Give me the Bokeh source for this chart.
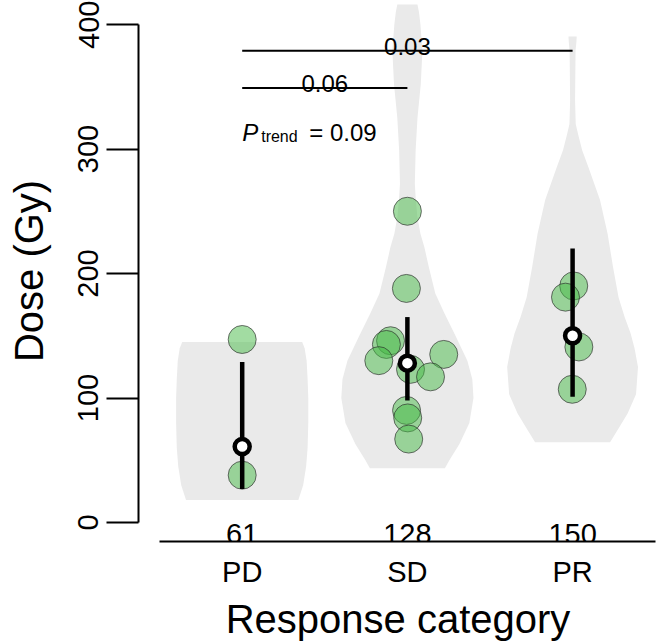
import numpy as np
from bokeh.plotting import figure
from bokeh.models import FixedTicker, Range1d
from bokeh.core.properties import value
from bokeh.embed import file_html
from bokeh.resources import INLINE

# ---------------- data ----------------
categories = ["PD", "SD", "PR"]
cat_pos = [1, 2, 3]

# individual patient doses (Gy) and horizontal jitter (x units)
pd_dose = [147, 38]
pd_jit = [0.0, 0.0]
sd_dose = [250, 188, 146, 143, 130, 135, 123, 117, 90, 84, 67]
sd_jit = [0.0, -0.006, -0.102, -0.127, -0.173, 0.220, 0.019, 0.140, -0.005, 0.002, 0.008]
pr_dose = [190, 181, 141, 107]
pr_jit = [0.007, -0.043, 0.038, -0.002]

medians = [61, 128, 150]
ci_low = [27, 98, 101]
ci_high = [129, 165, 220]

# violin outlines: dose level and half-width (x units)
pd_v_dose = [18, 30, 45, 60, 80, 100, 115, 130, 140, 145]
pd_v_half = [0.340, 0.369, 0.387, 0.396, 0.400, 0.400, 0.396, 0.390, 0.378, 0.363]
sd_v_dose = [43.6, 50, 63, 80, 100, 115, 130, 140, 150, 168, 184, 205, 221, 232, 245,
             259, 272, 299, 325, 352, 379, 400, 410, 416]
sd_v_half = [0.227, 0.254, 0.315, 0.375, 0.400, 0.393, 0.363, 0.327, 0.291, 0.224, 0.169,
             0.130, 0.103, 0.079, 0.061, 0.051, 0.045, 0.050, 0.061, 0.081, 0.091, 0.079,
             0.070, 0.061]
pr_v_dose = [64.5, 75.5, 87.5, 103, 125, 140, 152, 165, 181, 205, 232, 259, 285, 299,
             312, 320, 339, 379, 386, 390.4]
pr_v_half = [0.227, 0.278, 0.333, 0.384, 0.396, 0.375, 0.351, 0.315, 0.278, 0.245, 0.212,
             0.166, 0.097, 0.058, 0.033, 0.019, 0.015, 0.018, 0.023, 0.025]

# pairwise comparisons (from, to, p) and trend p
comp_from = [1, 1]
comp_to = [2, 3]
comp_p = ["0.06", "0.03"]
comp_level = [349, 379]
p_trend = "0.09"

y_ticks = [0, 100, 200, 300, 400]

FONT = "Liberation Sans"

# ---------------- figure ----------------
p = figure(width=657, height=644,
           x_range=Range1d(0.3723, 3.514), y_range=Range1d(-15.26, 419.28),
           output_backend="svg", toolbar_location=None,
           min_border_left=138, min_border_right=0, min_border_top=0, min_border_bottom=103)
p.xgrid.visible = False
p.ygrid.visible = False
p.outline_line_color = None
p.background_fill_color = "white"
p.border_fill_color = "white"

# violins
v_xs, v_ys = [], []
for c, d, h in [(1, pd_v_dose, pd_v_half), (2, sd_v_dose, sd_v_half), (3, pr_v_dose, pr_v_half)]:
    d = np.asarray(d, float)
    h = np.asarray(h, float)
    v_xs.append(list(c - h) + list((c + h)[::-1]))
    v_ys.append(list(d) + list(d[::-1]))
p.patches(v_xs, v_ys, fill_color="#EAEAEA", line_color=None)

# points
px = [1 + j for j in pd_jit] + [2 + j for j in sd_jit] + [3 + j for j in pr_jit]
py = pd_dose + sd_dose + pr_dose
p.scatter(px, py, size=28, fill_color="#45BA45", fill_alpha=0.5,
          line_color="#2A2A2A", line_alpha=0.65, line_width=1)

# interval lines and medians
p.segment(x0=cat_pos, x1=cat_pos, y0=ci_low, y1=ci_high, line_color="black", line_width=4.5)
p.scatter(cat_pos, medians, size=15, fill_color="white", line_color="black", line_width=4.5)

# median labels
p.text(x=cat_pos, y=[0, 0, 0], text=[str(m) for m in medians], text_align="center",
       text_baseline="alphabetic", y_offset=11, text_font=value(FONT),
       text_font_size="29px", text_color="black")

# comparison bars
p.segment(x0=comp_from, x1=comp_to, y0=comp_level, y1=comp_level,
          line_color="black", line_width=2)
p.text(x=[(a + b) / 2 for a, b in zip(comp_from, comp_to)], y=comp_level, text=comp_p,
       text_align="center", text_baseline="alphabetic", y_offset=-4,
       text_font=value(FONT), text_font_size="24px", text_color="black")

# P trend
ty = 313.5
p.text(x=[1], y=[ty], text=["P"], text_align="left", text_baseline="alphabetic",
       text_font=value(FONT), text_font_size="24px", text_font_style="italic", text_color="black")
p.text(x=[1], y=[ty], text=["trend"], text_align="left", text_baseline="alphabetic",
       x_offset=19, y_offset=4, text_font=value(FONT), text_font_size="16px", text_color="black")
p.text(x=[1], y=[ty], text=["= " + p_trend], text_align="left", text_baseline="alphabetic",
       x_offset=67, text_font=value(FONT), text_font_size="24px", text_color="black")

# y axis
yax = p.yaxis[0]
yax.bounds = (0, 400)
yax.ticker = FixedTicker(ticks=y_ticks)
yax.major_tick_out = 32
yax.major_tick_in = 0
yax.minor_tick_out = 0
yax.minor_tick_in = 0
yax.axis_line_width = 2
yax.major_tick_line_width = 2
yax.axis_line_color = "black"
yax.major_tick_line_color = "black"
yax.major_label_orientation = "parallel"
yax.major_label_standoff = 8
yax.major_label_text_font = FONT
yax.major_label_text_font_size = "29px"
yax.major_label_text_color = "black"
yax.axis_label = "Dose (Gy)"
yax.axis_label_text_font = FONT
yax.axis_label_text_font_size = "40px"
yax.axis_label_text_font_style = "normal"
yax.axis_label_text_color = "black"
yax.axis_label_standoff = 25

# x axis
xax = p.xaxis[0]
xax.bounds = (0.5, 3.5)
xax.ticker = FixedTicker(ticks=cat_pos)
xax.major_label_overrides = {c: n for c, n in zip(cat_pos, categories)}
xax.major_tick_out = 0
xax.major_tick_in = 0
xax.minor_tick_out = 0
xax.minor_tick_in = 0
xax.axis_line_width = 2
xax.axis_line_color = "black"
xax.major_label_standoff = 14
xax.major_label_text_font = FONT
xax.major_label_text_font_size = "29px"
xax.major_label_text_color = "black"
xax.axis_label = "Response category"
xax.axis_label_text_font = FONT
xax.axis_label_text_font_size = "40px"
xax.axis_label_text_font_style = "normal"
xax.axis_label_text_color = "black"
xax.axis_label_standoff = 6

open("out.html", "w").write(file_html(p, INLINE))
